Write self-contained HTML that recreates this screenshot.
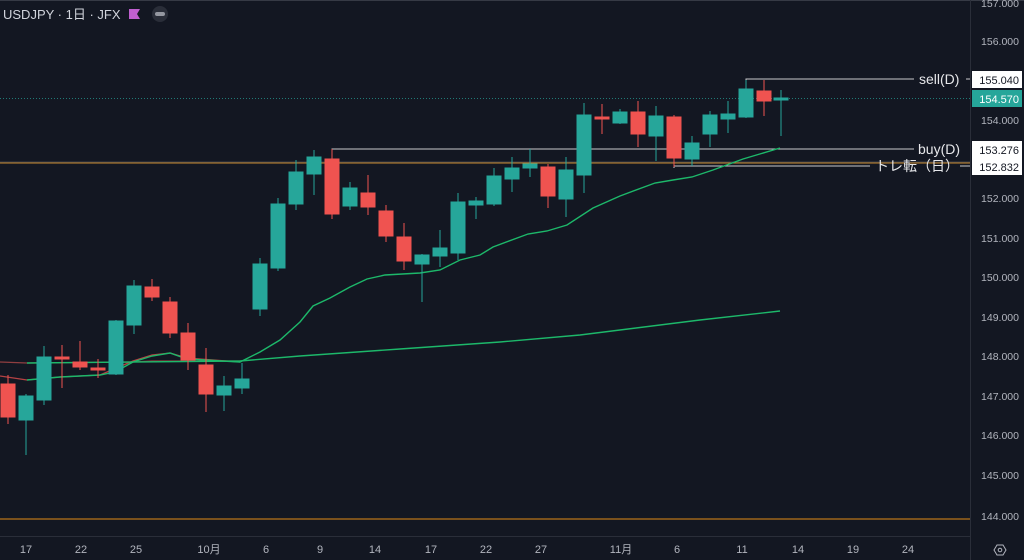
<!DOCTYPE html>
<html><head><meta charset="utf-8"><style>
html,body{margin:0;padding:0;background:#131722;}
svg{display:block;font-family:"Liberation Sans","Noto Sans CJK JP",sans-serif;}
</style></head><body>
<svg width="1024" height="560" viewBox="0 0 1024 560" xmlns="http://www.w3.org/2000/svg">
<rect width="1024" height="560" fill="#131722"/>
<line x1="0" y1="0.5" x2="1024" y2="0.5" stroke="#363a45"/>
<line x1="970.5" y1="0" x2="970.5" y2="560" stroke="#2a2e39"/>
<line x1="0" y1="536.5" x2="970" y2="536.5" stroke="#2a2e39"/>
<line x1="0" y1="519" x2="970" y2="519" stroke="#b8741a" stroke-width="1.2"/>
<line x1="0" y1="98.5" x2="970" y2="98.5" stroke="#26a69a" stroke-dasharray="1,2" opacity="0.7"/>
<polyline points="746,80 746,79 914,79" fill="none" stroke="#c8c9cc" stroke-width="1"/>
<line x1="966" y1="79" x2="970" y2="79" stroke="#c8c9cc"/>
<polyline points="332,152 332,149 914,149" fill="none" stroke="#c8c9cc" stroke-width="1"/>
<polyline points="674,168 674,166 870,166" fill="none" stroke="#c8c9cc" stroke-width="1"/>
<line x1="0" y1="163" x2="970" y2="163" stroke="#c88a2e" stroke-width="1"/>
<line x1="0" y1="162" x2="970" y2="162" stroke="#9598a1" stroke-width="0.6" opacity="0.6"/>
<polyline points="0,376 27,380 60,377 100,375 133,361 152,355 170,353 187,358 240,362" fill="none" stroke="#d24a4a" stroke-width="1.3" opacity="0.85"/>
<polyline points="0,362 27,363 133,362 152,361 240,361" fill="none" stroke="#b04848" stroke-width="1.3" opacity="0.8"/>
<polyline points="27,380 60,377 100,375 115,372 133,362 152,356 170,353 187,359 240,362 260,352 280,340 300,322 313,306 330,298 350,287 367,279 385,275 420,273 440,270 460,260 480,255 493,247 528,234 547,231 567,225 593,208 620,196 655,183 673,180 692,177 713,170 743,159 780,148" fill="none" stroke="#1db86a" stroke-width="1.4"/>
<polyline points="27,363 240,361 300,356 400,349 500,342 580,335 700,320 780,311" fill="none" stroke="#1db86a" stroke-width="1.4"/>
<g stroke-width="1">
<g fill="#ef5350" stroke="#ef5350">
<line x1="8" y1="375" x2="8" y2="424"/><rect x="1" y="384" width="14" height="33"/>
<line x1="62" y1="345" x2="62" y2="388"/><rect x="55" y="357" width="14" height="2"/>
<line x1="80" y1="341" x2="80" y2="370"/><rect x="73" y="362" width="14" height="5"/>
<line x1="98" y1="359" x2="98" y2="378"/><rect x="91" y="368" width="14" height="2"/>
<line x1="152" y1="279" x2="152" y2="301"/><rect x="145" y="287" width="14" height="10"/>
<line x1="170" y1="297" x2="170" y2="338"/><rect x="163" y="302" width="14" height="31"/>
<line x1="188" y1="323" x2="188" y2="370"/><rect x="181" y="333" width="14" height="27"/>
<line x1="206" y1="348" x2="206" y2="412"/><rect x="199" y="365" width="14" height="29"/>
<line x1="332" y1="149" x2="332" y2="219"/><rect x="325" y="159" width="14" height="55"/>
<line x1="368" y1="175" x2="368" y2="215"/><rect x="361" y="193" width="14" height="14"/>
<line x1="386" y1="205" x2="386" y2="242"/><rect x="379" y="211" width="14" height="25"/>
<line x1="404" y1="223" x2="404" y2="270"/><rect x="397" y="237" width="14" height="24"/>
<line x1="548" y1="164" x2="548" y2="208"/><rect x="541" y="167" width="14" height="29"/>
<line x1="602" y1="104" x2="602" y2="134"/><rect x="595" y="117" width="14" height="2"/>
<line x1="638" y1="101" x2="638" y2="147"/><rect x="631" y="112" width="14" height="22"/>
<line x1="674" y1="115" x2="674" y2="167"/><rect x="667" y="117" width="14" height="41"/>
<line x1="764" y1="80" x2="764" y2="116"/><rect x="757" y="91" width="14" height="10"/>
</g>
<g fill="#26a69a" stroke="#26a69a">
<line x1="26" y1="394" x2="26" y2="455"/><rect x="19" y="396" width="14" height="24"/>
<line x1="44" y1="346" x2="44" y2="405"/><rect x="37" y="357" width="14" height="43"/>
<line x1="116" y1="320" x2="116" y2="375"/><rect x="109" y="321" width="14" height="53"/>
<line x1="134" y1="280" x2="134" y2="334"/><rect x="127" y="286" width="14" height="39"/>
<line x1="224" y1="376" x2="224" y2="411"/><rect x="217" y="386" width="14" height="9"/>
<line x1="242" y1="363" x2="242" y2="394"/><rect x="235" y="379" width="14" height="9"/>
<line x1="260" y1="258" x2="260" y2="316"/><rect x="253" y="264" width="14" height="45"/>
<line x1="278" y1="198" x2="278" y2="271"/><rect x="271" y="204" width="14" height="64"/>
<line x1="296" y1="160" x2="296" y2="210"/><rect x="289" y="172" width="14" height="32"/>
<line x1="314" y1="150" x2="314" y2="195"/><rect x="307" y="157" width="14" height="17"/>
<line x1="350" y1="182" x2="350" y2="210"/><rect x="343" y="188" width="14" height="18"/>
<line x1="422" y1="254" x2="422" y2="302"/><rect x="415" y="255" width="14" height="9"/>
<line x1="440" y1="230" x2="440" y2="267"/><rect x="433" y="248" width="14" height="8"/>
<line x1="458" y1="193" x2="458" y2="260"/><rect x="451" y="202" width="14" height="51"/>
<line x1="476" y1="197" x2="476" y2="219"/><rect x="469" y="201" width="14" height="4"/>
<line x1="494" y1="168" x2="494" y2="206"/><rect x="487" y="176" width="14" height="28"/>
<line x1="512" y1="157" x2="512" y2="192"/><rect x="505" y="168" width="14" height="11"/>
<line x1="530" y1="149" x2="530" y2="177"/><rect x="523" y="164" width="14" height="4"/>
<line x1="566" y1="157" x2="566" y2="217"/><rect x="559" y="170" width="14" height="29"/>
<line x1="584" y1="103" x2="584" y2="193"/><rect x="577" y="115" width="14" height="60"/>
<line x1="620" y1="109" x2="620" y2="124"/><rect x="613" y="112" width="14" height="11"/>
<line x1="656" y1="106" x2="656" y2="161"/><rect x="649" y="116" width="14" height="20"/>
<line x1="692" y1="136" x2="692" y2="166"/><rect x="685" y="143" width="14" height="16"/>
<line x1="710" y1="111" x2="710" y2="147"/><rect x="703" y="115" width="14" height="19"/>
<line x1="728" y1="101" x2="728" y2="133"/><rect x="721" y="114" width="14" height="5"/>
<line x1="746" y1="80" x2="746" y2="118"/><rect x="739" y="89" width="14" height="28"/>
<line x1="781" y1="90" x2="781" y2="136"/><rect x="774" y="98" width="14" height="2"/>
</g>
</g>
<g fill="#e6e7ea" font-size="14">
<text x="919" y="84">sell(D)</text>
<text x="918" y="154">buy(D)</text>
<text x="875" y="171">トレ転（日）</text>
</g>
<line x1="960" y1="166" x2="970" y2="166" stroke="#c8c9cc"/>
<g fill="#b2b5be" font-size="10.5" text-anchor="end">
<text x="1019" y="7">157.000</text>
<text x="1019" y="45">156.000</text>
<text x="1019" y="124">154.000</text>
<text x="1019" y="202">152.000</text>
<text x="1019" y="242">151.000</text>
<text x="1019" y="281">150.000</text>
<text x="1019" y="321">149.000</text>
<text x="1019" y="360">148.000</text>
<text x="1019" y="400">147.000</text>
<text x="1019" y="439">146.000</text>
<text x="1019" y="479">145.000</text>
<text x="1019" y="520">144.000</text>
</g>
<rect x="972" y="71" width="50" height="17" fill="#ffffff"/>
<rect x="972" y="90" width="50" height="17" fill="#26a69a"/>
<rect x="972" y="141" width="50" height="17" fill="#ffffff"/>
<rect x="972" y="158" width="50" height="17" fill="#ffffff"/>
<g font-size="11" text-anchor="end">
<text x="1019" y="84" fill="#131722">155.040</text>
<text x="1019" y="103" fill="#ffffff">154.570</text>
<text x="1019" y="154" fill="#131722">153.276</text>
<text x="1019" y="171" fill="#131722">152.832</text>
</g>
<g fill="#b2b5be" font-size="11" text-anchor="middle">
<text x="26" y="553">17</text><text x="81" y="553">22</text><text x="136" y="553">25</text>
<text x="209" y="553">10月</text><text x="266" y="553">6</text><text x="320" y="553">9</text>
<text x="375" y="553">14</text><text x="431" y="553">17</text><text x="486" y="553">22</text>
<text x="541" y="553">27</text><text x="621" y="553">11月</text><text x="677" y="553">6</text>
<text x="742" y="553">11</text><text x="798" y="553">14</text><text x="853" y="553">19</text>
<text x="908" y="553">24</text>
</g>
<polygon points="994,550 997,545 1003,545 1006,550 1003,555 997,555" fill="none" stroke="#b2b5be"/>
<circle cx="1000" cy="550" r="1.8" fill="none" stroke="#b2b5be"/>
<text x="3" y="19" fill="#d1d4dc" font-size="13">USDJPY · 1日 · JFX</text>
<polygon points="129,9 140,9 137,14 140,19 129,19" fill="#c05fd0"/>
<circle cx="160" cy="14" r="8" fill="#2a2e39"/>
<rect x="155" y="12" width="10" height="4" rx="2" fill="#9598a1"/>
</svg>
</body></html>
